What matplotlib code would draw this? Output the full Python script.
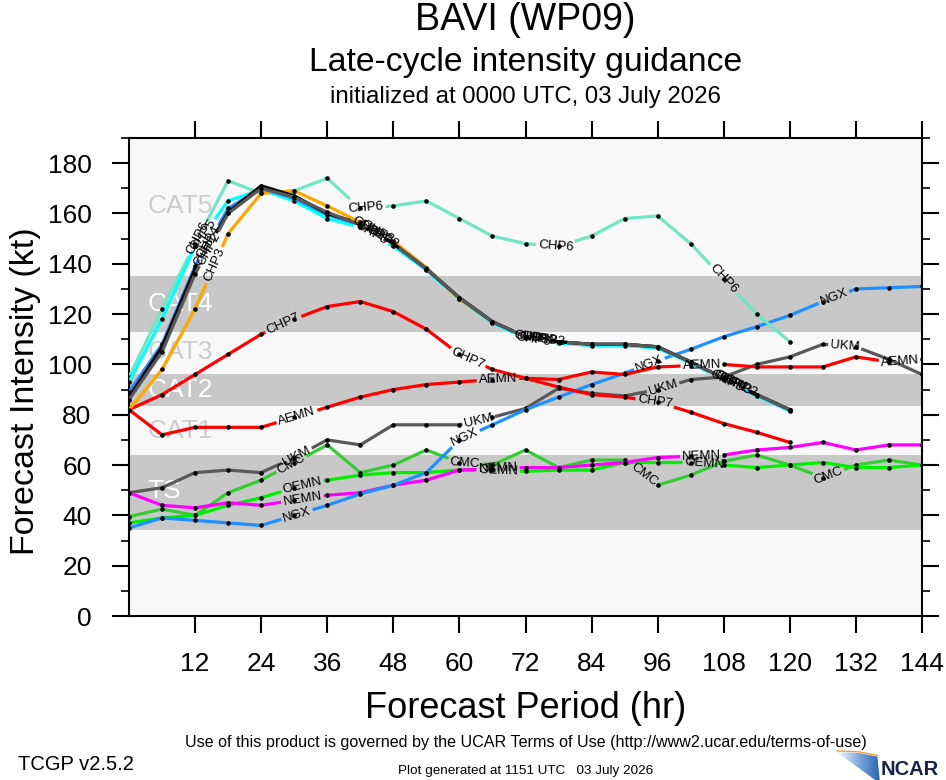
import numpy as np
import matplotlib
matplotlib.use("Agg")
import matplotlib.pyplot as plt
import matplotlib.patches as patches

plt.rcParams['font.family'] = ['Liberation Sans', 'DejaVu Sans']

# --- data (kt) every 6 h ---
hours = list(range(0, 145, 6))

chp6 = [95, 122, 148, 173, 168, 169, 174, 162, 163, 165, 158, 151, 148, 147, 151, 158, 159, 148, 134, 120, 109]
chp5 = [93, 118, 147, 165, 169.5, 165, 158, 154.5, 147, 137.5, 126, 116.5, 110.5, 108.5, 107.5, 107.5, 106.5, 100.5, 94, 87.5, 81.5]
chp3 = [82, 98, 122, 152, 168, 169, 163, 156.5, 149, 138.5, 126, 117, 111, 109, 108, 108, 107, 101, 94.5, 88, 82]
chp4 = [89, 108, 139, 162, 170, 166, 159.5, 155.5, 148, 138, 126.5, 117, 111, 109, 108, 108, 107, 101, 94.5, 88, 82]
chp1 = [87, 107, 138, 160.5, 171, 167, 160, 156, 148, 138, 126.5, 117, 111, 109, 108, 108, 107, 101, 94.5, 88, 82]
chp2 = [86, 105, 136, 160, 170, 166.5, 160.5, 155.5, 148, 138, 126.5, 117, 111, 109, 108, 108, 107, 101, 94.5, 88, 82]
chp7 = [82, 88, 96, 104, 112, 118, 123, 125, 121, 114, 104, 98, 94.5, 91, 88, 87, 85, 81, 76.5, 73, 69]
aemn = [82, 72, 75, 75, 75, 79, 83, 87, 90, 92, 93, 94, 94.5, 94, 97, 96, 99, 99.5, 100, 99, 99, 99, 103, 101, 102]
ukm = [49, 51, 57, 58, 57, 63, 70, 68, 76, 76, 76, 79, 82.5, 90.5, 88.5, 87.5, 90, 94, 95, 100, 103, 108, 107, 102, 96]
ngx = [35, 39, 38, 37, 36, 40, 44, 48.5, 52, 57, 70, 76, 82, 87, 92, 96.5, 101.5, 106, 111, 115, 119.5, 125, 130, 130.5, 131]
cmc = [39.5, 42.5, 40, 49, 54, 61, 68, 57, 60, 66, 61, 60, 66, 59, 62, 62, 52, 56, 61.5, 64, 60, 55, 60, 62, 60]
oemn = [37, 39, 40, 44, 47, 51, 54, 56, 57, 57, 58, 58, 57.5, 58, 58, 61, 61, 61, 60, 59, 60, 61, 59, 59, 60]
nemn = [49, 44, 43, 45, 44, 46, 48, 49, 52, 54, 58, 58.5, 59, 59, 60, 61, 63, 63.5, 64, 66, 67, 69, 66, 68, 68]

# name, values, colour, where the line labels sit (hours)
models = [
    ("UKM", ukm, "#595959", [30.5, 63.5, 97, 130]),
    ("CMC", cmc, "#33cc33", [29.5, 61, 93.5, 127]),
    ("OEMN", oemn, "#00ee00", [31.5, 67, 104.5]),
    ("NEMN", nemn, "#ff00ff", [31.5, 67, 104]),
    ("NGX", ngx, "#1e90ff", [30.5, 61, 94.5, 128]),
    ("AEMN", aemn, "#ff0000", [30.5, 67, 104, 140]),
    ("CHP7", chp7, "#ff0000", [28, 61.5, 95.5]),
    ("CHP6", chp6, "#70e6c4", [12.5, 43, 77.5, 108]),
    ("CHP5", chp5, "#00ffff", [13.5, 44, 73.5, 108.5]),
    ("CHP3", chp3, "#ffa500", [15.5, 45, 74.5, 110]),
    ("CHP4", chp4, "#1e90ff", [14.5, 44.5, 74, 109]),
    ("CHP1", chp1, "#000000", [14, 43.5, 73, 109.5]),
    ("CHP2", chp2, "#595959", [14.5, 46, 76, 111]),
]

bands = [(34, 64), (83.5, 96), (113, 135)]
cat_names = ["CAT5", "CAT4", "CAT3", "CAT2", "CAT1", "TS"]
cat_y = [163, 124, 105, 90, 73.5, 49.5]
cat_colors = ["#cccccc", "white", "#cccccc", "white", "#cccccc", "white"]

W, H = 946, 780
fig = plt.figure(figsize=(W / 100, H / 100), dpi=100)
ax = fig.add_axes([129 / W, 1 - 616 / H, (922 - 129) / W, (616 - 138) / H])
ax.set_facecolor("#f8f8f8")
ax.set_xlim(0, 144)
ax.set_ylim(0, 190)

for lo, hi in bands:
    ax.axhspan(lo, hi, color="#c8c8c8", lw=0, zorder=0)
for name, yv, c in zip(cat_names, cat_y, cat_colors):
    ax.text(3.3, yv, name, fontsize=19, color=c, va="center", ha="left", zorder=1)

renderer = fig.canvas.get_renderer()


def point_at(pts, cum, s):
    i = int(np.searchsorted(cum, s) - 1)
    i = min(max(i, 0), len(pts) - 2)
    f = (s - cum[i]) / (cum[i + 1] - cum[i])
    return pts[i] + f * (pts[i + 1] - pts[i])


def draw_model(name, vals, color, label_hours, z):
    x = np.array(hours[:len(vals)], float)
    y = np.array(vals, float)
    pts = ax.transData.transform(np.column_stack([x, y]))
    seg = np.hypot(*np.diff(pts, axis=0).T)
    cum = np.concatenate([[0], np.cumsum(seg)])
    gaps = []
    for lh in label_hours:
        i = min(int(lh // 6), len(x) - 2)
        f = (lh - x[i]) / 6.0
        p = pts[i] + f * (pts[i + 1] - pts[i])
        s = cum[i] + f * seg[i]
        d = pts[i + 1] - pts[i]
        ang = np.degrees(np.arctan2(d[1], d[0]))
        pd_ = ax.transData.inverted().transform(p)
        t = ax.text(pd_[0], pd_[1], name, fontsize=9.5, ha="center", va="center",
                    rotation_mode="anchor", zorder=20)
        w = t.get_window_extent(renderer).width
        t.set_rotation(ang)
        gaps.append((s - w / 2 - 2, s + w / 2 + 2))
    # cut the line where the labels are
    gaps.sort()
    pieces = []
    start = 0.0
    for a, b in gaps:
        if a > start:
            pieces.append((start, a))
        start = max(start, b)
    if start < cum[-1]:
        pieces.append((start, cum[-1]))
    inv = ax.transData.inverted()
    for a, b in pieces:
        inner = [pts[k] for k in range(len(pts)) if a < cum[k] < b]
        path = np.array([point_at(pts, cum, a)] + inner + [point_at(pts, cum, b)])
        dd = inv.transform(path)
        ax.plot(dd[:, 0], dd[:, 1], color=color, lw=2.3, solid_capstyle="butt", zorder=z)
    ax.plot(x, y, "o", color="black", ms=3.3, mew=0, zorder=z + 0.5)


for k, (name, vals, color, lh) in enumerate(models):
    draw_model(name, vals, color, lh, 3 + k)

# axes styling
ax.set_xticks(range(12, 145, 12))
ax.set_yticks(range(0, 181, 20))
ax.set_yticks(range(10, 191, 20), minor=True)
ax.tick_params(axis="both", which="major", direction="out", length=12, width=1.5,
               labelsize=19, top=True, right=True)
ax.tick_params(axis="y", which="major", pad=15)
ax.tick_params(axis="y", which="minor", direction="out", length=6, width=1.2, right=True)
ax.tick_params(axis="x", which="major", pad=14)
for sp in ax.spines.values():
    sp.set_linewidth(1.5)
ax.set_xlabel("Forecast Period (hr)", fontsize=26, va="center")
ax.xaxis.set_label_coords(0.5, (616 - 708) / 478)
ax.set_ylabel("Forecast Intensity (kt)", fontsize=24.5, va="center")
ax.yaxis.set_label_coords((26 - 129) / 793, 0.47)

cx = (129 + 922) / 2 / W
fig.text(cx, 1 - 20 / H, "BAVI (WP09)", fontsize=27, ha="center", va="center")
fig.text(cx, 1 - 62 / H, "Late-cycle intensity guidance", fontsize=24.3, ha="center", va="center")
fig.text(cx, 1 - 97 / H, "initialized at 0000 UTC, 03 July 2026", fontsize=17.3, ha="center", va="center")
fig.text(cx, 1 - 742 / H, "Use of this product is governed by the UCAR Terms of Use (http://www2.ucar.edu/terms-of-use)",
         fontsize=11.6, ha="center", va="center")
fig.text(cx, 1 - 771 / H, "Plot generated at 1151 UTC   03 July 2026", fontsize=9.7, ha="center", va="center")
fig.text(18 / W, 1 - 765 / H, "TCGP v2.5.2", fontsize=14.5, ha="left", va="center")

# NCAR logo
lax = fig.add_axes([836 / W, 0, 46 / W, 30 / H])
lax.set_xlim(0, 1)
lax.set_ylim(0, 1)
lax.axis("off")
grad = np.linspace(0, 1, 64)[None, :]
cmap = matplotlib.colors.LinearSegmentedColormap.from_list("ncar", ["#ffffff", "#7fa9dc", "#1f5faa"])
img = lax.imshow(grad, extent=[0, 1, 0, 1], cmap=cmap, aspect="auto")
wedge = patches.Polygon([(0.02, 0.93), (0.5, 0.9), (0.9, 0.78), (0.95, 0.0), (0.85, 0.0)],
                        closed=True, transform=lax.transData, facecolor="none", edgecolor="none")
lax.add_patch(wedge)
img.set_clip_path(wedge)
lax.plot([0.02, 0.5, 0.9], [0.97, 0.94, 0.82], color="#f0a040", lw=1)
fig.text(881 / W, 1 - 775 / H, "NCAR", fontsize=14.5, fontweight="bold", color="#15254a",
         ha="left", va="baseline")

fig.savefig("out.png", dpi=100)
